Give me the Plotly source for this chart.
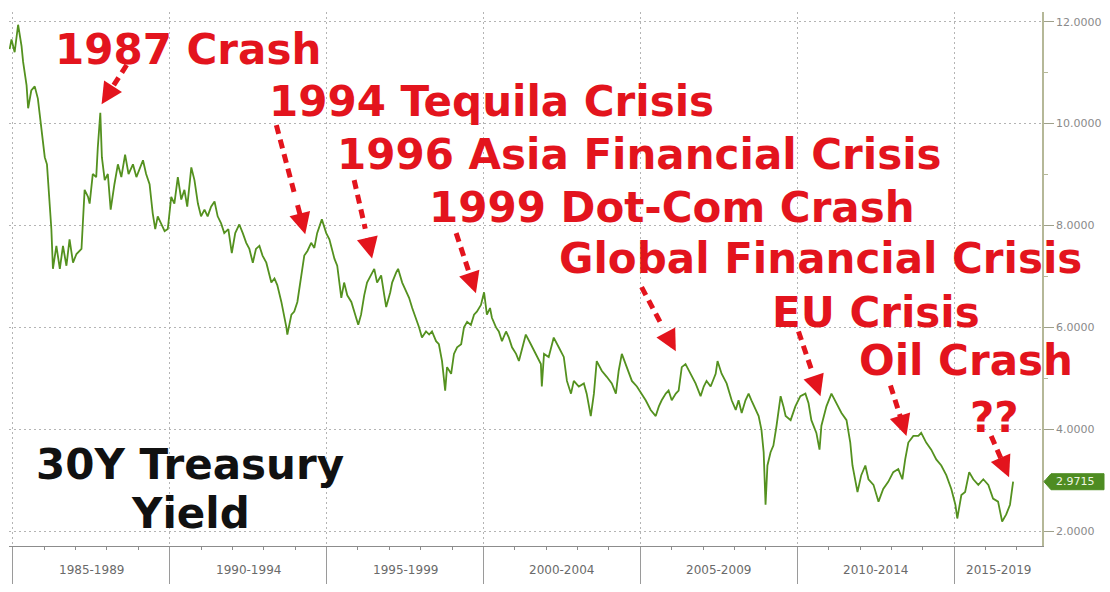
import plotly.graph_objects as go

# ---------------- data ----------------
years = [
    1984.90, 1984.96, 1985.06, 1985.17, 1985.28, 1985.33, 1985.44, 1985.49, 1985.59, 1985.70,
    1985.80, 1985.86, 1985.96, 1986.02, 1986.09, 1986.18, 1986.23, 1986.28, 1986.39, 1986.50,
    1986.60, 1986.71, 1986.81, 1986.92, 1987.03, 1987.19, 1987.29, 1987.40, 1987.45, 1987.55,
    1987.66, 1987.71, 1987.79, 1987.84, 1987.93, 1988.03, 1988.12, 1988.24, 1988.35, 1988.46,
    1988.58, 1988.69, 1988.83, 1988.94, 1989.04, 1989.15, 1989.25, 1989.36, 1989.46, 1989.54,
    1989.62, 1989.73, 1989.84, 1989.94, 1990.05, 1990.15, 1990.26, 1990.37, 1990.47, 1990.56,
    1990.69, 1990.79, 1990.90, 1991.00, 1991.11, 1991.21, 1991.32, 1991.43, 1991.53, 1991.64,
    1991.74, 1991.87, 1991.98, 1992.09, 1992.22, 1992.33, 1992.44, 1992.54, 1992.65, 1992.75,
    1992.86, 1992.96, 1993.08, 1993.24, 1993.34, 1993.43, 1993.56, 1993.72, 1993.75, 1993.88,
    1993.97, 1994.07, 1994.20, 1994.29, 1994.39, 1994.51, 1994.61, 1994.70, 1994.85, 1994.99,
    1995.09, 1995.25, 1995.34, 1995.47, 1995.56, 1995.66, 1995.79, 1995.88, 1996.01, 1996.10,
    1996.20, 1996.29, 1996.42, 1996.52, 1996.61, 1996.74, 1996.84, 1996.90, 1997.03, 1997.09,
    1997.22, 1997.28, 1997.41, 1997.54, 1997.63, 1997.73, 1997.85, 1997.95, 1998.04, 1998.17,
    1998.27, 1998.36, 1998.49, 1998.58, 1998.68, 1998.78, 1998.84, 1998.97, 1999.06, 1999.16,
    1999.29, 1999.38, 1999.48, 1999.60, 1999.70, 1999.79, 1999.92, 2000.02, 2000.11, 2000.21,
    2000.27, 2000.40, 2000.49, 2000.59, 2000.72, 2000.81, 2000.91, 2001.04, 2001.13, 2001.35,
    2001.51, 2001.67, 2001.83, 2001.86, 2001.93, 2002.08, 2002.24, 2002.40, 2002.56, 2002.66,
    2002.79, 2002.88, 2003.04, 2003.20, 2003.29, 2003.42, 2003.52, 2003.61, 2003.77, 2003.93,
    2004.09, 2004.22, 2004.31, 2004.41, 2004.57, 2004.73, 2004.89, 2005.04, 2005.17, 2005.33,
    2005.49, 2005.59, 2005.68, 2005.81, 2005.90, 2006.00, 2006.13, 2006.22, 2006.32, 2006.44,
    2006.60, 2006.76, 2006.92, 2007.02, 2007.11, 2007.24, 2007.40, 2007.46, 2007.59, 2007.75,
    2007.91, 2008.04, 2008.13, 2008.23, 2008.35, 2008.45, 2008.54, 2008.67, 2008.77, 2008.86,
    2008.93, 2008.99, 2009.05, 2009.15, 2009.24, 2009.34, 2009.47, 2009.56, 2009.63, 2009.79,
    2009.94, 2010.10, 2010.26, 2010.36, 2010.45, 2010.61, 2010.71, 2010.77, 2010.93, 2011.09,
    2011.25, 2011.41, 2011.57, 2011.69, 2011.76, 2011.85, 2011.92, 2012.04, 2012.17, 2012.27,
    2012.43, 2012.59, 2012.74, 2012.90, 2013.06, 2013.22, 2013.35, 2013.44, 2013.54, 2013.70,
    2013.86, 2013.95, 2014.11, 2014.27, 2014.43, 2014.59, 2014.75, 2014.91, 2015.04, 2015.10,
    2015.23, 2015.35, 2015.48, 2015.61, 2015.77, 2015.93, 2016.09, 2016.24, 2016.40, 2016.53,
    2016.66, 2016.78, 2016.88,
]
yields = [
    11.46, 11.65, 11.40, 11.94, 11.52, 11.21, 10.75, 10.30, 10.65, 10.73,
    10.49, 10.17, 9.72, 9.34, 9.20, 8.43, 7.93, 7.15, 7.60, 7.15,
    7.60, 7.21, 7.73, 7.27, 7.44, 7.54, 8.70, 8.56, 8.43, 9.01,
    8.95, 9.53, 10.21, 9.34, 8.89, 9.01, 8.31, 8.81, 9.20, 8.95,
    9.39, 9.01, 9.20, 8.95, 9.09, 9.28, 9.01, 8.81, 8.24, 7.93,
    8.18, 8.04, 7.89, 7.93, 8.56, 8.43, 8.95, 8.51, 8.70, 8.37,
    9.14, 8.89, 8.43, 8.18, 8.31, 8.18, 8.37, 8.47, 8.18, 8.04,
    7.85, 7.93, 7.46, 7.85, 8.02, 7.85, 7.66, 7.54, 7.27, 7.54,
    7.60, 7.41, 7.27, 6.88, 6.96, 6.83, 6.50, 6.00, 5.86, 6.25,
    6.31, 6.50, 7.02, 7.41, 7.50, 7.66, 7.56, 7.85, 8.12, 7.85,
    7.73, 7.35, 7.21, 6.58, 6.88, 6.63, 6.50, 6.31, 6.05, 6.25,
    6.63, 6.88, 7.02, 7.15, 6.88, 7.02, 6.63, 6.40, 6.69, 6.88,
    7.08, 7.15, 6.88, 6.69, 6.58, 6.38, 6.19, 6.00, 5.80, 5.92,
    5.86, 5.92, 5.73, 5.67, 5.34, 4.76, 5.22, 5.09, 5.48, 5.61,
    5.67, 6.00, 6.11, 6.05, 6.25, 6.31, 6.44, 6.69, 6.25, 6.38,
    6.19, 6.00, 5.92, 5.73, 5.92, 5.80, 5.61, 5.48, 5.34, 5.86,
    5.67, 5.48, 5.28, 4.84, 5.48, 5.42, 5.80, 5.61, 5.42, 4.95,
    4.70, 4.95, 4.84, 4.90, 4.70, 4.26, 4.70, 5.34, 5.15, 5.03,
    4.90, 4.70, 5.15, 5.48, 5.22, 4.95, 4.84, 4.70, 4.57, 4.38,
    4.26, 4.45, 4.57, 4.70, 4.76, 4.57, 4.70, 4.76, 5.22, 5.28,
    5.09, 4.90, 4.65, 4.84, 4.95, 4.84, 5.09, 5.34, 5.09, 4.90,
    4.57, 4.38, 4.57, 4.32, 4.57, 4.70, 4.57, 4.38, 4.26, 3.99,
    3.55, 2.52, 3.29, 3.55, 3.68, 4.07, 4.65, 4.45, 4.26, 4.18,
    4.45, 4.65, 4.70, 4.51, 4.18, 3.93, 3.60, 4.07, 4.45, 4.70,
    4.51, 4.32, 4.18, 3.74, 3.29, 3.02, 2.77, 3.10, 3.29, 3.02,
    2.91, 2.58, 2.83, 2.97, 3.16, 3.22, 3.02, 3.41, 3.74, 3.87,
    3.87, 3.93, 3.74, 3.60, 3.41, 3.29, 3.10, 2.83, 2.52, 2.25,
    2.71, 2.77, 3.16, 3.02, 2.91, 3.02, 2.91, 2.64, 2.58, 2.19,
    2.33, 2.52, 2.9715,
]

period_labels = ["1985-1989", "1990-1994", "1995-1999", "2000-2004",
                 "2005-2009", "2010-2014", "2015-2019"]
period_starts = [1985, 1990, 1995, 2000, 2005, 2010, 2015]
y_ticks = [2, 4, 6, 8, 10, 12]

event_labels = ["1987 Crash", "1994 Tequila Crisis", "1996 Asia Financial Crisis",
                "1999 Dot-Com Crash", "Global Financial Crisis", "EU Crisis",
                "Oil Crash", "??"]

# ---------------- layout settings (positions / styles) ----------------
X_RANGE = [1984.88, 2017.80]
Y_RANGE = [1.71, 12.19]
RED = "#e3141d"
GREEN = "#54911f"
GRID = "#b4b4b4"

# text centres (year, yield) for each event label
event_text_pos = [(1990.57, 11.46), (2000.27, 10.44), (2004.98, 9.39), (2006.00, 8.35),
                  (2010.74, 7.35), (2012.52, 6.29), (2015.38, 5.36), (2016.28, 4.24)]
# arrow tails and tips (year, yield)
arrow_tails = [(1988.63, 11.15), (1993.40, 9.97), (1995.88, 8.89), (1999.13, 7.85),
               (2005.04, 6.79), (2010.04, 5.92), (2012.97, 4.86), (2016.18, 3.87)]
arrow_tips = [(1987.83, 10.38), (1994.32, 7.83), (1996.45, 7.35), (1999.76, 6.67),
              (2006.13, 5.53), (2010.74, 4.65), (2013.48, 3.87), (2016.75, 3.06)]

fig = go.Figure()
fig.add_trace(go.Scatter(x=years, y=yields, mode="lines",
                         line=dict(color=GREEN, width=1.8), hoverinfo="skip",
                         showlegend=False))

annotations = []
shapes = []

# event labels
for lab, (tx, ty) in zip(event_labels, event_text_pos):
    annotations.append(dict(x=tx, y=ty, xref="x", yref="y", text="<b>%s</b>" % lab,
                            showarrow=False, xanchor="center", yanchor="middle",
                            font=dict(family="DejaVu Sans", size=42, color=RED)))

# dashed arrows
for (x0, y0), (x1, y1) in zip(arrow_tails, arrow_tips):
    f = 0.62
    mx, my = x0 + f * (x1 - x0), y0 + f * (y1 - y0)
    shapes.append(dict(type="line", xref="x", yref="y", x0=x0, y0=y0, x1=mx, y1=my,
                       line=dict(color=RED, width=5, dash="9px,6px"), layer="above"))
    f2 = 0.72
    ax, ay = x0 + f2 * (x1 - x0), y0 + f2 * (y1 - y0)
    annotations.append(dict(x=x1, y=y1, xref="x", yref="y", ax=ax, ay=ay,
                            axref="x", ayref="y", text="", showarrow=True,
                            arrowhead=2, arrowsize=0.85, arrowwidth=5,
                            arrowcolor=RED))

# title text
annotations.append(dict(x=1990.66, y=3.31, xref="x", yref="y", text="<b>30Y Treasury</b>",
                        showarrow=False, xanchor="center", yanchor="middle",
                        font=dict(family="DejaVu Sans", size=42, color="#111111")))
annotations.append(dict(x=1990.66, y=2.35, xref="x", yref="y", text="<b>Yield</b>",
                        showarrow=False, xanchor="center", yanchor="middle",
                        font=dict(family="DejaVu Sans", size=42, color="#111111")))

# period labels under the axis
for i, lab in enumerate(period_labels):
    start = period_starts[i]
    end = period_starts[i + 1] if i + 1 < len(period_starts) else X_RANGE[1]
    annotations.append(dict(x=(start + end) / 2, y=0, xref="x", yref="paper",
                            yanchor="top", yshift=-15, text=lab, showarrow=False,
                            font=dict(family="DejaVu Sans", size=12, color="#6a6a6a")))

# last value tag
last = yields[-1]
shapes.append(dict(type="path", xref="paper", yref="y", xsizemode="pixel",
                   ysizemode="pixel", xanchor=1, yanchor=last,
                   path="M 2,0 L 9,8 L 62,8 L 62,-8 L 9,-8 Z",
                   fillcolor="#4e8c22", line=dict(color="#4e8c22", width=1),
                   layer="above"))
annotations.append(dict(x=1, y=last, xref="paper", yref="y", xanchor="left",
                        xshift=12, yanchor="middle", text="%.4f" % last,
                        showarrow=False,
                        font=dict(family="DejaVu Sans", size=11, color="#eef6e4")))

fig.update_layout(
    width=1110, height=592, autosize=False,
    margin=dict(l=9, r=66, t=12, b=37),
    paper_bgcolor="white", plot_bgcolor="white",
    showlegend=False,
    annotations=annotations, shapes=shapes,
    xaxis=dict(range=X_RANGE, tickmode="array", tickvals=period_starts,
               showticklabels=False, ticks="outside", ticklen=37,
               tickcolor="#9a9a9a", tickwidth=1,
               showline=True, linecolor="#8c8c8c", linewidth=1,
               showgrid=True, gridcolor=GRID, griddash="2px,3px", gridwidth=1,
               zeroline=False, fixedrange=True,
               minor=dict(tickmode="linear", tick0=1985, dtick=1, ticks="outside",
                          ticklen=3, tickcolor="#8c8c8c", showgrid=False)),
    yaxis=dict(range=Y_RANGE, side="right", tickmode="array", tickvals=y_ticks,
               tickformat=".4f", ticks="outside", ticklen=10, tickcolor="#9ea08a",
               tickfont=dict(family="DejaVu Sans", size=11, color="#8a8a8a"),
               showline=True, linecolor="#b5b898", linewidth=1.5,
               showgrid=True, gridcolor=GRID, griddash="2px,3px", gridwidth=1,
               zeroline=False, fixedrange=True,
               minor=dict(tickmode="linear", tick0=1, dtick=1, ticks="outside",
                          ticklen=4, tickcolor="#b5b898", showgrid=False)),
)

fig.write_html("out.html")
